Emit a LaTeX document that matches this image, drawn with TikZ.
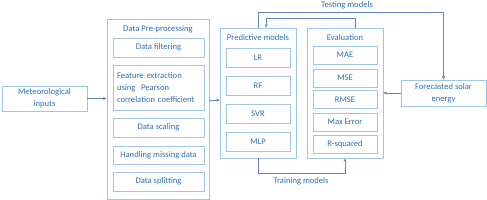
\documentclass[tikz,border=0pt]{standalone}
\usepackage{fontspec}
\setmainfont{Carlito}
\usepackage{tikz}
\usetikzlibrary{arrows.meta,positioning,calc}
\definecolor{boxline}{RGB}{160,196,230}
\definecolor{txtblue}{RGB}{46,110,180}
\definecolor{linkblue}{RGB}{100,130,190}

\begin{document}
\begin{tikzpicture}[x=1pt, y=-1pt,
        every node/.style={font=\fontsize{8.6}{12}\selectfont, text=txtblue},
        frame/.style={draw=boxline, thick, minimum width=#1, inner sep=0pt},
        item/.style={draw=boxline, thick, minimum width=#1, minimum height=19pt, inner sep=0pt},
        conn/.style={draw=linkblue, -{Stealth[length=3.5pt,width=3pt]}}]
    \useasboundingbox (0,0) rectangle (487,200);
    % outer groups
    \node[frame=102pt, minimum height=180pt] (pre) at (158,109) {};
    \node[frame=76pt, minimum height=130pt] (pred) at (258,93) {};
    \node[frame=76pt, minimum height=130pt] (eval) at (345,93) {};
    \node (pretitle) at (158,29) {Data Pre-processing};
    \node (predtitle) at (258,38) {Predictive models};
    \node (evaltitle) at (345,38) {Evaluation};
    % input and output
    \node[item=85pt, minimum height=25pt, align=center] (met) at (44.5,98.5) {Meteorological\\inputs};
    \node[item=85pt, minimum height=26pt, align=center] (fore) at (443.5,93) {Forecasted solar\\energy};
    % pre-processing steps
    \node[item=91pt] (filt) at (158.5,47.5) {Data filtering};
    \node[item=91pt, minimum height=45pt, text width=83pt, align=left] (feat) at (158.5,87.5) {Feature extraction\\using\ \ Pearson\\correlation coefficient};
    \node[item=91pt] (scal) at (158.5,127.5) {Data scaling};
    \node[item=91pt, minimum height=18pt] (miss) at (158.5,155) {Handling missing data};
    \node[item=91pt] (split) at (158.5,181.5) {Data splitting};
    % models
    \node[item=64pt] (lr) at (258,57.5) {LR};
    \node[item=64pt] (rf) at (258,85.5) {RF};
    \node[item=64pt] (svr) at (258,113.5) {SVR};
    \node[item=64pt] (mlp) at (258,141.5) {MLP};
    % metrics
    \node[item=64pt, minimum height=18pt] (mae) at (345,55) {MAE};
    \node[item=64pt, minimum height=18pt] (mse) at (345,78) {MSE};
    \node[item=64pt, minimum height=18pt] (rmse) at (345,99.5) {RMSE};
    \node[item=64pt, minimum height=18pt] (maxerr) at (345,122) {Max Error};
    \node[item=64pt, minimum height=18pt] (rsq) at (345,144) {R-squared};
    % connectors
    \draw[conn] (met.east) -- (met.east -| pre.west);
    \draw[conn] ($(pre.east)+(0,-9)$) -- ($(pred.west)+(0,7)$);
    \draw[conn] (fore.west) -- (eval.east);
    \draw[conn] (pred.north) -- ++(0,-15) -| (fore.north);
    \draw[conn] ([xshift=10pt]eval.north) -- ++(0,-9) -| ([xshift=8pt]pred.north);
    \draw[conn] (pred.south) -- ++(0,15) -| (eval.south);
    \node (testlbl) at (347,5) {Testing models};
    \node (trainlbl) at (301,181) {Training models};
\end{tikzpicture}
\end{document}
